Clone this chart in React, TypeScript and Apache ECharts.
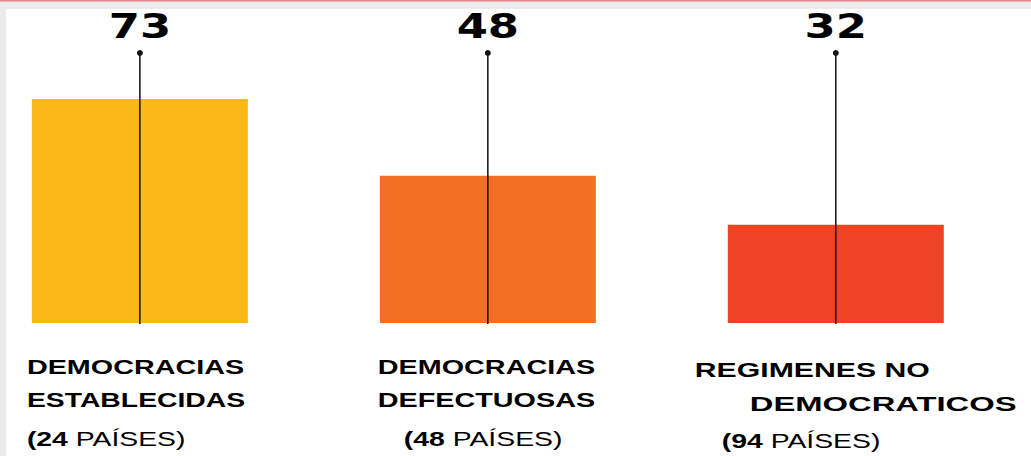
import React, { useEffect, useRef } from "react";
import * as echarts from "echarts";

// ---- data ----
const CATEGORIES = ["Democracias establecidas", "Democracias defectuosas", "Regímenes no democráticos"];
const VALUES = [73, 48, 32];
const COUNTRY_COUNTS = [24, 48, 94];
const NAME_LINE_1 = ["DEMOCRACIAS", "DEMOCRACIAS", "REGIMENES NO"];
const NAME_LINE_2 = ["ESTABLECIDAS", "DEFECTUOSAS", "DEMOCRATICOS"];
const COUNT_WORD = "PAÍSES";

// ---- styles / layout ----
const COLORS = ["#FCB817", "#F36F24", "#EE4325"];
const Y_MAX = 88;
const X_MIN = -0.402;
const X_MAX = 2.561;
const FONT = '"Liberation Sans", Arial, sans-serif';
// per category, per line: offset from bar centre (dx to left edge), offset below baseline (dy), horizontal stretch
const LABEL_LAYOUT = [
  [{ dx: -113, dy: 43, sx: 1.37 }, { dx: -113, dy: 76, sx: 1.35 }, { dx: -113, dy: 115, sx: 1.35 }],
  [{ dx: -110, dy: 43, sx: 1.37 }, { dx: -110, dy: 76, sx: 1.37 }, { dx: -84, dy: 115, sx: 1.35 }],
  [{ dx: -141, dy: 47, sx: 1.44 }, { dx: -86, dy: 81, sx: 1.56 }, { dx: -114, dy: 117, sx: 1.35 }],
];

export default function App() {
  const ref = useRef<HTMLDivElement>(null);
  useEffect(() => {
    if (!ref.current) return;
    const chart = echarts.init(ref.current, null, { renderer: "svg" });
    const option: any = {
      animation: false,
      graphic: [
        { type: "rect", z: -10, silent: true, shape: { x: 0, y: 0, width: 1031, height: 456 }, style: { fill: "#EBEBEB" } },
        { type: "rect", z: -9, silent: true, shape: { x: 0, y: 0, width: 1031, height: 1.5 }, style: { fill: "#E8838A" } },
        { type: "rect", z: -8, silent: true, shape: { x: 6, y: 9, width: 1025, height: 447 }, style: { fill: "#FFFFFF" } },
      ],
      grid: { left: 0, right: 0, top: 53, height: 270, containLabel: false },
      xAxis: { type: "value", min: X_MIN, max: X_MAX, show: false },
      yAxis: { type: "value", min: 0, max: Y_MAX, show: false },
      series: [
        {
          type: "bar",
          barWidth: 216,
          silent: true,
          data: VALUES.map((v, i) => ({ value: [i, v], itemStyle: { color: COLORS[i] } })),
          z: 2,
        },
        {
          type: "custom",
          silent: true,
          z: 3,
          data: CATEGORIES.map((c, i) => [i, VALUES[i]]),
          renderItem: (params: any, api: any) => {
            const i = params.dataIndex;
            const base = api.coord([api.value(0), 0]);
            const top = api.coord([api.value(0), Y_MAX]);
            const children: any[] = [
              { type: "line", shape: { x1: base[0], y1: base[1] + 1, x2: top[0], y2: top[1] }, style: { stroke: "#111", lineWidth: 1.5 } },
              { type: "circle", shape: { cx: top[0], cy: top[1], r: 3 }, style: { fill: "#111" } },
              {
                type: "text",
                x: top[0],
                y: top[1] - 27,
                scaleX: 1.32,
                style: {
                  text: String(api.value(1)),
                  x: 0,
                  y: 0,
                  align: "center",
                  verticalAlign: "middle",
                  fontFamily: '"DejaVu Sans", sans-serif',
                  fontWeight: "bold",
                  fontSize: 34,
                  fill: "#000",
                },
              },
            ];
            const lines = [
              { text: NAME_LINE_1[i] },
              { text: NAME_LINE_2[i] },
              { text: `{b|(${COUNTRY_COUNTS[i]}}{r| ${COUNT_WORD})}` },
            ];
            lines.forEach((ln, k) => {
              const L = LABEL_LAYOUT[i][k];
              children.push({
                type: "text",
                x: base[0] + L.dx,
                y: base[1] + L.dy,
                scaleX: L.sx,
                style: {
                  text: ln.text,
                  x: 0,
                  y: 0,
                  align: "left",
                  verticalAlign: "middle",
                  fontFamily: FONT,
                  fontWeight: "bold",
                  fontSize: 21,
                  fill: "#000",
                  rich: {
                    b: { fontFamily: FONT, fontWeight: "bold", fontSize: 21, fill: "#000" },
                    r: { fontFamily: FONT, fontWeight: "normal", fontSize: 21, fill: "#000" },
                  },
                },
              });
            });
            return { type: "group", children };
          },
        },
      ],
    };
    chart.setOption(option);
    return () => chart.dispose();
  }, []);
  return <div ref={ref} style={{ position: "absolute", left: 0, top: 0, width: 1031, height: 456 }} />;
}
